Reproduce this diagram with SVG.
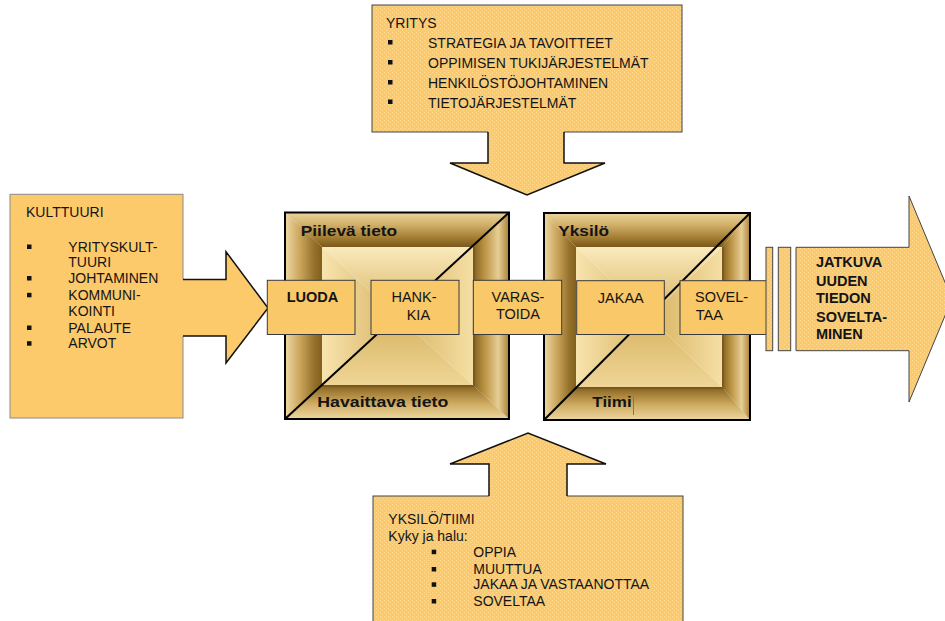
<svg xmlns="http://www.w3.org/2000/svg" width="945" height="621" viewBox="0 0 945 621">
  <defs>
    <style>
      text { font-family: "Liberation Sans", Arial, sans-serif; fill: #141414; }
      .t14 { font-size: 14px; }
      .proc { font-size: 14.5px; }
      .procb { font-size: 14.5px; font-weight: bold; }
      .lbl { font-size: 15.5px; font-weight: bold; }
      .out { font-size: 14.5px; font-weight: bold; }
      .box { fill: url(#dither); stroke: #444; stroke-width: 1; }
      .plain { fill: #FDCA6B; stroke: #8a8a8a; stroke-width: 1; }
      .step { fill: #F9C868; stroke: #3a3a3a; stroke-width: 1; }
      .bullet { fill: #111; }
      .afill { fill: url(#dither); stroke: none; }
      .aline { fill: none; stroke: #111; stroke-width: 1.5; stroke-linejoin: miter; }
      .frame { fill: none; stroke: #000; stroke-width: 2; }
      .diag { stroke: #000; stroke-width: 2; }
      .ishadow { fill: none; stroke: #6E5018; stroke-width: 2; stroke-opacity: 0.5; }
    </style>
    <!-- fine checker used by the dithered fills -->
    <pattern id="dither" width="4" height="4" patternUnits="userSpaceOnUse">
      <rect width="4" height="4" fill="#FDCA67"/>
      <rect width="1" height="1" fill="#FFDB95"/>
      <rect x="2" y="2" width="1" height="1" fill="#FFDB95"/>
    </pattern>
    <!-- bevel frame: light at the outer edge, dark toward the inner face -->
    <linearGradient id="bvTop" x1="0" y1="0" x2="0" y2="1">
      <stop offset="0" stop-color="#EBD49C"/>
      <stop offset="0.35" stop-color="#D2B06A"/>
      <stop offset="0.75" stop-color="#A07A30"/>
      <stop offset="1" stop-color="#7A581B"/>
    </linearGradient>
    <linearGradient id="bvLeft" x1="0" y1="0" x2="1" y2="0">
      <stop offset="0" stop-color="#EEDAA5"/>
      <stop offset="0.4" stop-color="#CBA65C"/>
      <stop offset="0.8" stop-color="#946F2A"/>
      <stop offset="1" stop-color="#80601F"/>
    </linearGradient>
    <linearGradient id="bvBottom" x1="0" y1="1" x2="0" y2="0">
      <stop offset="0" stop-color="#ECD7A0"/>
      <stop offset="0.45" stop-color="#D0AC62"/>
      <stop offset="0.85" stop-color="#9B7630"/>
      <stop offset="1" stop-color="#7E5D1F"/>
    </linearGradient>
    <linearGradient id="bvRight" x1="1" y1="0" x2="0" y2="0">
      <stop offset="0" stop-color="#A9813A"/>
      <stop offset="0.3" stop-color="#E6CE94"/>
      <stop offset="0.7" stop-color="#B89040"/>
      <stop offset="1" stop-color="#805F22"/>
    </linearGradient>
    <!-- recessed inner face: pale edges, gold centre -->
    <linearGradient id="inTop" x1="0" y1="0" x2="0" y2="1">
      <stop offset="0" stop-color="#FAEABD"/>
      <stop offset="1" stop-color="#D6B260"/>
    </linearGradient>
    <linearGradient id="inLeft" x1="0" y1="0" x2="1" y2="0">
      <stop offset="0" stop-color="#F8E4AE"/>
      <stop offset="1" stop-color="#D6B260"/>
    </linearGradient>
    <linearGradient id="inBottom" x1="0" y1="1" x2="0" y2="0">
      <stop offset="0" stop-color="#EFD697"/>
      <stop offset="1" stop-color="#D6B260"/>
    </linearGradient>
    <linearGradient id="inRight" x1="1" y1="0" x2="0" y2="0">
      <stop offset="0" stop-color="#F5DFA4"/>
      <stop offset="1" stop-color="#D6B260"/>
    </linearGradient>
  </defs>

  <rect width="945" height="621" fill="#FFFFFF"/>

  <!-- YRITYS -->
  <g id="yritys">
    <rect class="box" x="372" y="5" width="310" height="127"/>
    <text class="t14" x="386" y="28">YRITYS</text>
    <rect class="bullet" x="388" y="40" width="4.5" height="4.5"/>
    <text class="t14" x="428" y="48">STRATEGIA JA TAVOITTEET</text>
    <rect class="bullet" x="388" y="60" width="4.5" height="4.5"/>
    <text class="t14" x="428" y="68">OPPIMISEN TUKIJÄRJESTELMÄT</text>
    <rect class="bullet" x="388" y="80" width="4.5" height="4.5"/>
    <text class="t14" x="428" y="88">HENKILÖSTÖJOHTAMINEN</text>
    <rect class="bullet" x="388" y="99.5" width="4.5" height="4.5"/>
    <text class="t14" x="428" y="107.5">TIETOJÄRJESTELMÄT</text>
  </g>

  <!-- KULTTUURI -->
  <g id="kulttuuri">
    <rect class="plain" x="10" y="194.3" width="173" height="223.7"/>
    <text class="t14" x="26" y="216.7">KULTTUURI</text>
    <rect class="bullet" x="27" y="244.5" width="4.5" height="4.5"/>
    <text class="t14" x="68.3" y="251.7">YRITYSKULT-</text>
    <text class="t14" x="68.3" y="266.7">TUURI</text>
    <rect class="bullet" x="27" y="276" width="4.5" height="4.5"/>
    <text class="t14" x="68.3" y="283.3">JOHTAMINEN</text>
    <rect class="bullet" x="27" y="292.8" width="4.5" height="4.5"/>
    <text class="t14" x="68.3" y="300">KOMMUNI-</text>
    <text class="t14" x="68.3" y="316">KOINTI</text>
    <rect class="bullet" x="27" y="325.5" width="4.5" height="4.5"/>
    <text class="t14" x="68.3" y="332.7">PALAUTE</text>
    <rect class="bullet" x="27" y="341.2" width="4.5" height="4.5"/>
    <text class="t14" x="68.3" y="348.3">ARVOT</text>
  </g>

  <!-- YKSILÖ/TIIMI -->
  <g id="yksilo-tiimi">
    <rect class="box" x="373" y="496" width="310" height="135"/>
    <text class="t14" x="388.3" y="524">YKSILÖ/TIIMI</text>
    <text class="t14" x="388.3" y="540.7">Kyky ja halu:</text>
    <rect class="bullet" x="431.7" y="549.7" width="4.5" height="4.5"/>
    <text class="t14" x="473.3" y="556.7">OPPIA</text>
    <rect class="bullet" x="431.7" y="567" width="4.5" height="4.5"/>
    <text class="t14" x="473.3" y="574">MUUTTUA</text>
    <rect class="bullet" x="431.7" y="582.3" width="4.5" height="4.5"/>
    <text class="t14" x="473.3" y="589.3">JAKAA JA VASTAANOTTAA</text>
    <rect class="bullet" x="431.7" y="599" width="4.5" height="4.5"/>
    <text class="t14" x="473.3" y="606">SOVELTAA</text>
  </g>

  <!-- bevelled square: Piilevä / Havaittava tieto -->
  <g id="tieto">
    <polygon fill="url(#bvTop)" points="285,212.5 509,212.5 473,247 322,247"/>
    <polygon fill="url(#bvLeft)" points="285,212.5 322,247 322,385 285,419"/>
    <polygon fill="url(#bvBottom)" points="285,419 322,385 473,385 509,419"/>
    <polygon fill="url(#bvRight)" points="509,212.5 509,419 473,385 473,247"/>
    <polygon fill="url(#inTop)" points="322,247 473,247 397.5,316"/>
    <polygon fill="url(#inLeft)" points="322,247 397.5,316 322,385"/>
    <polygon fill="url(#inBottom)" points="322,385 473,385 397.5,316"/>
    <polygon fill="url(#inRight)" points="473,247 473,385 397.5,316"/>
    <polyline class="ishadow" points="322,386 474,386 474,247"/>
    <rect class="frame" x="285" y="212.5" width="224" height="206.5"/>
    <line class="diag" x1="285" y1="419" x2="509" y2="212.5"/>
    <text class="lbl" x="300.7" y="235.7" textLength="96.5" lengthAdjust="spacingAndGlyphs">Piilevä tieto</text>
    <text class="lbl" x="317.3" y="407.3" textLength="131" lengthAdjust="spacingAndGlyphs">Havaittava tieto</text>
  </g>

  <!-- bevelled square: Yksilö / Tiimi -->
  <g id="yksilo">
    <polygon fill="url(#bvTop)" points="544,213 750,213 722,247 576,247"/>
    <polygon fill="url(#bvLeft)" points="544,213 576,247 576,387 544,420"/>
    <polygon fill="url(#bvBottom)" points="544,420 576,387 722,387 750,420"/>
    <polygon fill="url(#bvRight)" points="750,213 750,420 722,387 722,247"/>
    <polygon fill="url(#inTop)" points="576,247 722,247 649,317"/>
    <polygon fill="url(#inLeft)" points="576,247 649,317 576,387"/>
    <polygon fill="url(#inBottom)" points="576,387 722,387 649,317"/>
    <polygon fill="url(#inRight)" points="722,247 722,387 649,317"/>
    <polyline class="ishadow" points="576,388 723,388 723,247"/>
    <rect class="frame" x="544" y="213" width="206" height="207"/>
    <line class="diag" x1="544" y1="420" x2="750" y2="213"/>
    <text class="lbl" x="558.3" y="235.7" textLength="50.7" lengthAdjust="spacingAndGlyphs">Yksilö</text>
    <text class="lbl" x="592.3" y="407.3" textLength="39.4" lengthAdjust="spacingAndGlyphs">Tiimi</text>
    <line x1="633.5" y1="397" x2="633.5" y2="415" stroke="#777" stroke-width="1"/>
  </g>

  <!-- block arrows feeding the process -->
  <g id="connectors">
    <polygon class="afill" points="488,130.5 564,130.5 564,163 605,163 527,195 450,163 488,163"/>
    <polyline class="aline" points="488,132 488,163 450,163 527,195 605,163 564,163 564,132"/>
    <polygon fill="#FDCA6B" points="181.5,279.5 226,279.5 226,251.7 268,308 226,363 226,336 181.5,336"/>
    <polyline class="aline" points="183,279.5 226,279.5 226,251.7 268,308 226,363 226,336 183,336"/>
    <polygon class="afill" points="489,497.5 489,464 450,464 528,433 606,464 567,464 567,497.5"/>
    <polyline class="aline" points="489,496 489,464 450,464 528,433 606,464 567,464 567,496"/>
  </g>

  <!-- process steps -->
  <g id="luoda">
    <rect class="step" x="267.3" y="280.3" width="87.7" height="54.2"/>
    <text class="procb" x="312.5" y="301.7" text-anchor="middle">LUODA</text>
  </g>
  <g id="hankkia">
    <rect class="step" x="371" y="280.3" width="88" height="54.2"/>
    <text class="proc" x="414" y="302" text-anchor="middle">HANK-</text>
    <text class="proc" x="406.7" y="319.5">KIA</text>
  </g>
  <g id="varastoida">
    <rect class="step" x="473.3" y="280.3" width="88.4" height="54.2"/>
    <text class="proc" x="518" y="302" text-anchor="middle">VARAS-</text>
    <text class="proc" x="518" y="319" text-anchor="middle">TOIDA</text>
  </g>
  <g id="jakaa">
    <rect class="step" x="576.7" y="280.7" width="87.6" height="53.8"/>
    <text class="proc" x="620.8" y="302.7" text-anchor="middle">JAKAA</text>
  </g>
  <g id="soveltaa">
    <rect class="step" x="680" y="280.7" width="87.3" height="53.8"/>
    <text class="proc" x="695" y="302">SOVEL-</text>
    <text class="proc" x="695.7" y="319.5">TAA</text>
  </g>

  <!-- output arrow with its two lead-in bars -->
  <g id="jatkuva">
    <rect class="box" x="766" y="247.3" width="6.7" height="103.4"/>
    <rect class="box" x="778.3" y="247.3" width="12.4" height="103.4"/>
    <path class="box" d="M796,247.3 H909 V196 L952,299 L909,402 V350.7 H796 Z"/>
    <text class="out" x="816" y="267.3">JATKUVA</text>
    <text class="out" x="816" y="285.7">UUDEN</text>
    <text class="out" x="816" y="303.3">TIEDON</text>
    <text class="out" x="816" y="321.7">SOVELTA-</text>
    <text class="out" x="816" y="339">MINEN</text>
  </g>
</svg>
